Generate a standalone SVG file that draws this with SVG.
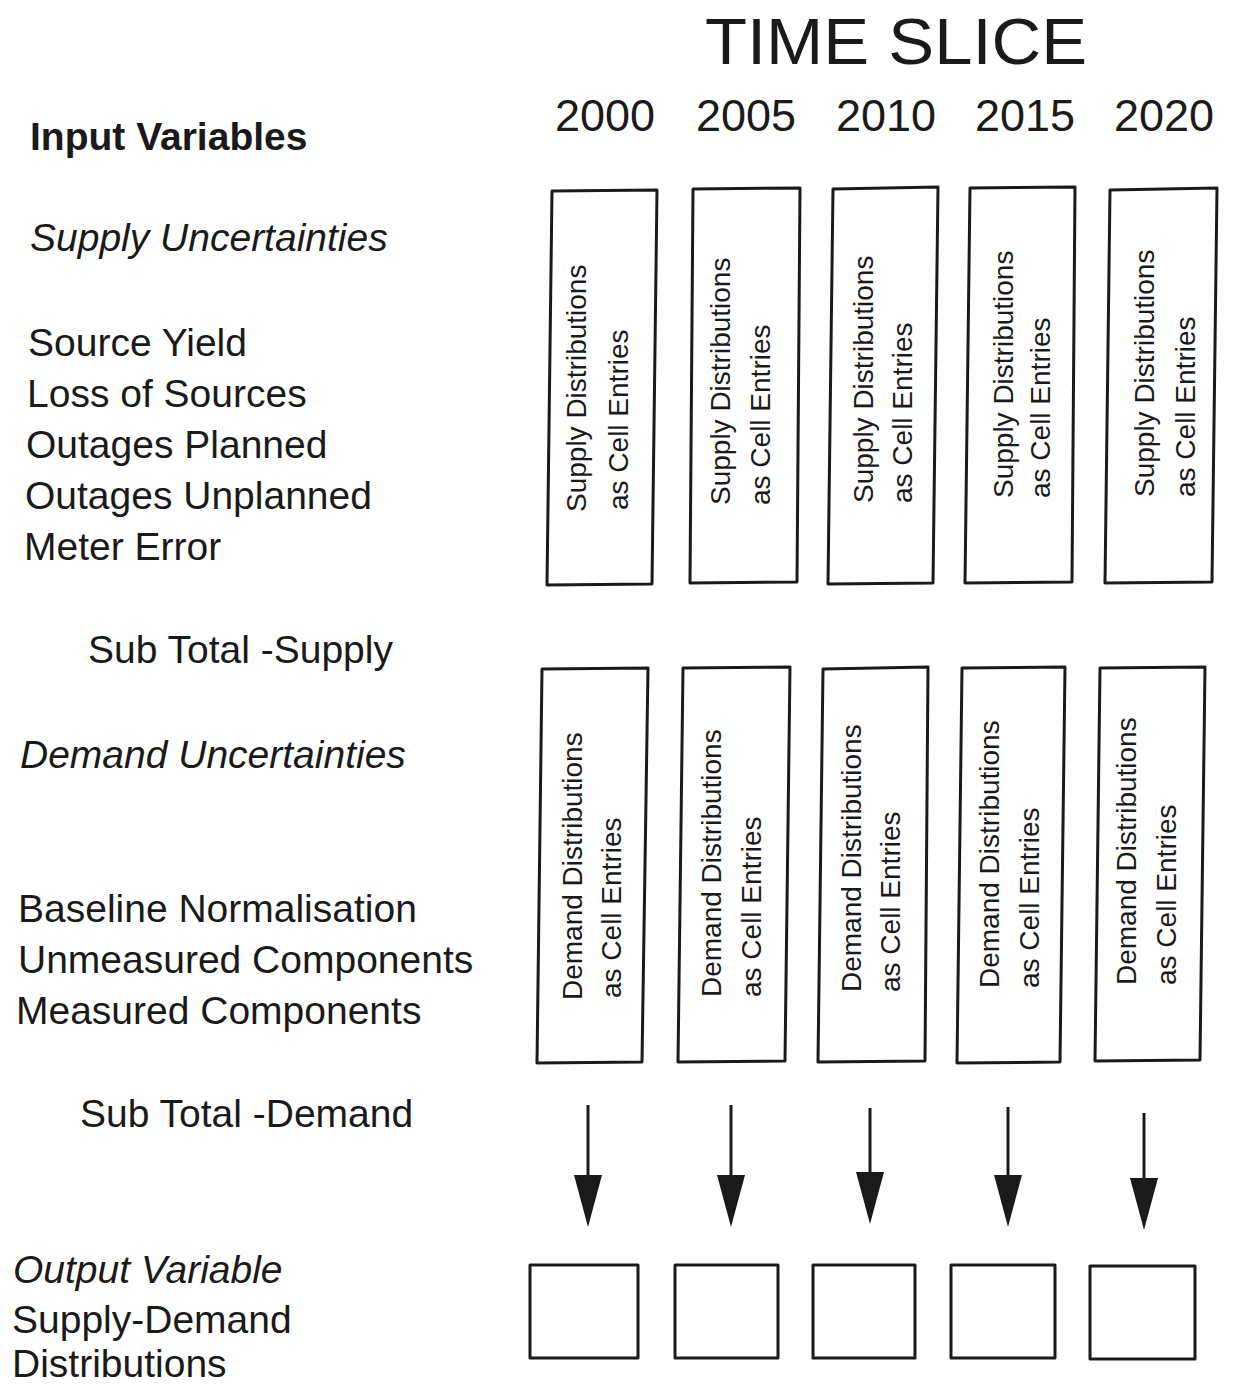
<svg xmlns="http://www.w3.org/2000/svg" width="1235" height="1386" viewBox="0 0 1235 1386">
<style>
.t{font-family:"Liberation Sans",Arial,sans-serif;font-size:39px;fill:#1a1a1a}
.i{font-style:italic}
.b{font-weight:bold}
.yr{font-family:"Liberation Sans",Arial,sans-serif;font-size:45px;fill:#1a1a1a;text-anchor:middle}
.r{font-family:"Liberation Sans",Arial,sans-serif;font-size:28px;fill:#1a1a1a}
.box{fill:#fff;stroke:#1a1a1a;stroke-width:3;stroke-linejoin:round}
.ln{stroke:#1a1a1a;stroke-width:3;fill:none}
</style>
<defs>
<marker id="ah" viewBox="0 0 52 28" refX="0" refY="14" markerWidth="52" markerHeight="28" markerUnits="userSpaceOnUse" orient="auto">
<path d="M0,0 L52,14 L0,28 Z" fill="#1a1a1a"/>
</marker>
</defs>
<rect width="1235" height="1386" fill="#fff"/>

<g id="header">
<text x="705" y="64" font-family="Liberation Sans, Arial, sans-serif" font-size="64" fill="#1a1a1a" textLength="382" lengthAdjust="spacingAndGlyphs">TIME SLICE</text>
<text class="yr" x="605" y="131">2000</text>
<text class="yr" x="746" y="131">2005</text>
<text class="yr" x="886" y="131">2010</text>
<text class="yr" x="1025" y="131">2015</text>
<text class="yr" x="1164" y="131">2020</text>
</g>

<g id="labels">
<text class="t b" x="30" y="150">Input Variables</text>
<text class="t i" x="30" y="251">Supply Uncertainties</text>
<text class="t" x="28" y="356">Source Yield</text>
<text class="t" x="27" y="407">Loss of Sources</text>
<text class="t" x="26" y="458">Outages Planned</text>
<text class="t" x="25" y="509">Outages Unplanned</text>
<text class="t" x="24" y="560">Meter Error</text>
<text class="t" x="88" y="663">Sub Total -Supply</text>
<text class="t i" x="20" y="768">Demand Uncertainties</text>
<text class="t" x="18" y="922">Baseline Normalisation</text>
<text class="t" x="18" y="973">Unmeasured Components</text>
<text class="t" x="16" y="1024">Measured Components</text>
<text class="t" x="80" y="1127">Sub Total -Demand</text>
<text class="t i" x="13" y="1283">Output Variable</text>
<text class="t" x="12" y="1333">Supply-Demand</text>
<text class="t" x="12" y="1377">Distributions</text>
</g>

<g id="supply-2000">
<polygon class="box" points="552,191 657,190 652,584 547,585"/>
<text class="r" transform="translate(586,512) rotate(-90)">Supply Distributions</text>
<text class="r" transform="translate(628,510) rotate(-90)">as Cell Entries</text>
</g>
<g id="supply-2005">
<polygon class="box" points="693,189 800,188 797,582 690,583"/>
<text class="r" transform="translate(730,505) rotate(-90)">Supply Distributions</text>
<text class="r" transform="translate(770,505) rotate(-90)">as Cell Entries</text>
</g>
<g id="supply-2010">
<polygon class="box" points="833,189 938,187 933,583 828,584"/>
<text class="r" transform="translate(873,503) rotate(-90)">Supply Distributions</text>
<text class="r" transform="translate(912,503) rotate(-90)">as Cell Entries</text>
</g>
<g id="supply-2015">
<polygon class="box" points="970,188 1075,187 1072,582 965,583"/>
<text class="r" transform="translate(1013,498) rotate(-90)">Supply Distributions</text>
<text class="r" transform="translate(1050,498) rotate(-90)">as Cell Entries</text>
</g>
<g id="supply-2020">
<polygon class="box" points="1110,190 1217,188 1212,582 1105,583"/>
<text class="r" transform="translate(1154,497) rotate(-90)">Supply Distributions</text>
<text class="r" transform="translate(1195,497) rotate(-90)">as Cell Entries</text>
</g>

<g id="demand-2000">
<polygon class="box" points="542,669 648,668 642,1062 537,1063"/>
<text class="r" transform="translate(582,1000) rotate(-90)">Demand Distributions</text>
<text class="r" transform="translate(621,998) rotate(-90)">as Cell Entries</text>
</g>
<g id="demand-2005">
<polygon class="box" points="683,668 790,667 785,1061 678,1062"/>
<text class="r" transform="translate(721,997) rotate(-90)">Demand Distributions</text>
<text class="r" transform="translate(761,997) rotate(-90)">as Cell Entries</text>
</g>
<g id="demand-2010">
<polygon class="box" points="823,669 928,667 925,1061 818,1062"/>
<text class="r" transform="translate(861,992) rotate(-90)">Demand Distributions</text>
<text class="r" transform="translate(900,992) rotate(-90)">as Cell Entries</text>
</g>
<g id="demand-2015">
<polygon class="box" points="962,668 1065,667 1060,1062 957,1063"/>
<text class="r" transform="translate(999,988) rotate(-90)">Demand Distributions</text>
<text class="r" transform="translate(1039,988) rotate(-90)">as Cell Entries</text>
</g>
<g id="demand-2020">
<polygon class="box" points="1100,668 1205,667 1200,1060 1095,1061"/>
<text class="r" transform="translate(1136,985) rotate(-90)">Demand Distributions</text>
<text class="r" transform="translate(1176,985) rotate(-90)">as Cell Entries</text>
</g>

<g id="output-2000"><rect class="box" x="530" y="1265" width="108" height="93"/></g>
<g id="output-2005"><rect class="box" x="675" y="1265" width="103" height="93"/></g>
<g id="output-2010"><rect class="box" x="813" y="1265" width="102" height="93"/></g>
<g id="output-2015"><rect class="box" x="951" y="1265" width="104" height="93"/></g>
<g id="output-2020"><rect class="box" x="1090" y="1266" width="105" height="93"/></g>

<g id="connectors">
<line class="ln" x1="588" y1="1105" x2="588" y2="1175" marker-end="url(#ah)"/>
<line class="ln" x1="731" y1="1105" x2="731" y2="1175" marker-end="url(#ah)"/>
<line class="ln" x1="870" y1="1108" x2="870" y2="1172" marker-end="url(#ah)"/>
<line class="ln" x1="1008" y1="1107" x2="1008" y2="1175" marker-end="url(#ah)"/>
<line class="ln" x1="1144" y1="1113" x2="1144" y2="1178" marker-end="url(#ah)"/>
</g>
</svg>
